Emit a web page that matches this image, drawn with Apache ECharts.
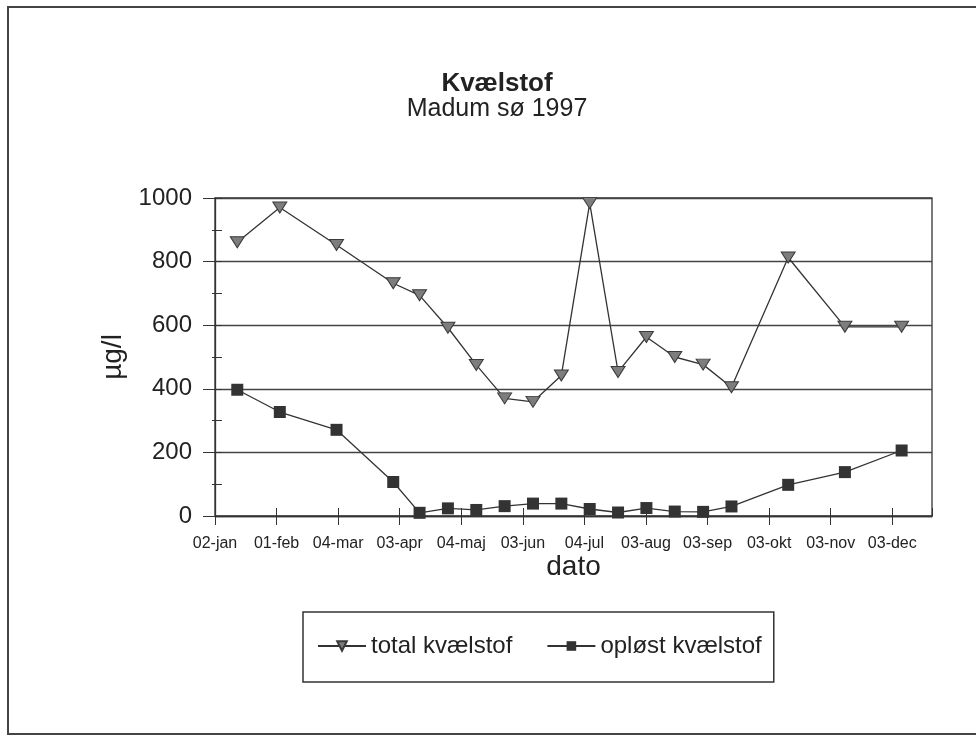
<!DOCTYPE html>
<html>
<head>
<meta charset="utf-8">
<script src="https://cdn.jsdelivr.net/npm/echarts@6/dist/echarts.min.js"></script>
<style>
  html, body { margin: 0; background: #fff; }
  #main { width: 976px; height: 736px; }
</style>
</head>
<body>
<div id="main"></div>
<script>
// sampling dates 1997
const sampleDates = [
  "1997-01-13", "1997-02-03", "1997-03-03", "1997-03-31", "1997-04-13",
  "1997-04-27", "1997-05-11", "1997-05-25", "1997-06-08", "1997-06-22",
  "1997-07-06", "1997-07-20", "1997-08-03", "1997-08-17", "1997-08-31",
  "1997-09-14", "1997-10-12", "1997-11-09", "1997-12-07"
];
const totalN = [861, 970, 852, 732, 694, 592, 475, 370, 359, 442, 984, 453, 563, 500, 476, 405, 813, 595, 595];
const dissolvedN = [397, 327, 271, 107, 10, 24, 19, 31, 39, 39, 22, 11, 25, 14, 13, 30, 98, 138, 206];
const tickLabels = ["02-jan", "01-feb", "04-mar", "03-apr", "04-maj", "03-jun",
  "04-jul", "03-aug", "03-sep", "03-okt", "03-nov", "03-dec"];

const font = "'Liberation Sans', Arial, sans-serif";
const ink = "#222";
const start = Date.UTC(1997, 0, 2);
const step = 30.4; // days between date ticks

function dayOf(s) {
  return (Date.parse(s + "T00:00:00Z") - start) / 86400000;
}
const days = sampleDates.map(dayOf);

function dateLabel(v) {
  const i = Math.round(v / step);
  if (Math.abs(v - i * step) > 0.05) return "";
  return tickLabels[i] || "";
}

const chart = echarts.init(document.getElementById("main"));

chart.setOption({
  animation: false,
  backgroundColor: "#fff",
  textStyle: { fontFamily: font },
  graphic: [
    {
      type: "rect",
      shape: { x: 8, y: 7, width: 1000, height: 727 },
      style: { fill: "none", stroke: "#444", lineWidth: 2 },
      silent: true
    }
  ],
  title: {
    text: "Kvælstof",
    subtext: "Madum sø 1997",
    left: 492,
    textAlign: "center",
    top: 66,
    itemGap: 0,
    textStyle: { fontFamily: font, fontSize: 26, fontWeight: "bold", color: ink },
    subtextStyle: { fontFamily: font, fontSize: 25, color: ink }
  },
  legend: {
    left: 303,
    top: 612,
    padding: [22, 12, 24, 14],
    itemGap: 34,
    itemWidth: 48,
    itemHeight: 12,
    borderColor: "#333",
    borderWidth: 1.5,
    textStyle: { fontFamily: font, fontSize: 24, color: ink },
    data: ["total kvælstof", "opløst kvælstof"]
  },
  grid: {
    left: 215,
    right: 44,
    top: 198,
    bottom: 220,
    show: true,
    borderColor: "#333",
    borderWidth: 1.3
  },
  xAxis: [
    {
      type: "value",
      min: 0,
      max: 354,
      interval: step,
      name: "dato",
      nameLocation: "middle",
      nameGap: 33,
      nameTextStyle: { fontFamily: font, fontSize: 28, color: ink },
      axisLine: { show: true, lineStyle: { color: "#333", width: 1.3 } },
      axisTick: { show: true, inside: false, length: 9, lineStyle: { color: "#333" } },
      axisLabel: { margin: 20, fontFamily: font, fontSize: 16, color: ink, formatter: dateLabel, showMaxLabel: false },
      splitLine: { show: false }
    },
    {
      type: "value",
      position: "bottom",
      min: 0,
      max: 354,
      interval: step,
      axisLine: { show: false },
      axisTick: { show: true, inside: true, length: 8, lineStyle: { color: "#333" } },
      axisLabel: { show: false },
      splitLine: { show: false }
    }
  ],
  yAxis: [
    {
      type: "value",
      min: 0,
      max: 1000,
      interval: 200,
      name: "µg/l",
      nameLocation: "middle",
      nameGap: 64,
      nameTextStyle: { fontFamily: font, fontSize: 28, color: ink },
      axisLine: { show: true, lineStyle: { color: "#333", width: 1.3 } },
      axisTick: { show: true, inside: false, length: 12, lineStyle: { color: "#333" } },
      minorTick: { show: true, splitNumber: 2, length: 3, lineStyle: { color: "#333" } },
      axisLabel: { margin: 23, fontFamily: font, fontSize: 24, color: ink, formatter: (v) => String(v) },
      splitLine: { show: true, lineStyle: { color: "#444", width: 1.4 } }
    },
    {
      type: "value",
      position: "left",
      min: 0,
      max: 1000,
      interval: 100,
      axisLine: { show: false },
      axisTick: { show: true, inside: true, length: 7, lineStyle: { color: "#333" } },
      axisLabel: { show: false },
      splitLine: { show: false }
    }
  ],
  series: [
    {
      name: "total kvælstof",
      type: "line",
      xAxisIndex: 0,
      yAxisIndex: 0,
      data: days.map((d, i) => [d, totalN[i]]),
      symbol: "triangle",
      symbolRotate: 180,
      symbolSize: [14, 11],
      itemStyle: { color: "#7d7d7d", borderColor: "#3a3a3a", borderWidth: 1 },
      lineStyle: { color: "#333", width: 1.3 }
    },
    {
      name: "opløst kvælstof",
      type: "line",
      xAxisIndex: 0,
      yAxisIndex: 0,
      data: days.map((d, i) => [d, dissolvedN[i]]),
      symbol: "rect",
      symbolSize: 12,
      itemStyle: { color: "#333" },
      lineStyle: { color: "#333", width: 1.3 }
    }
  ]
});
</script>
</body>
</html>
